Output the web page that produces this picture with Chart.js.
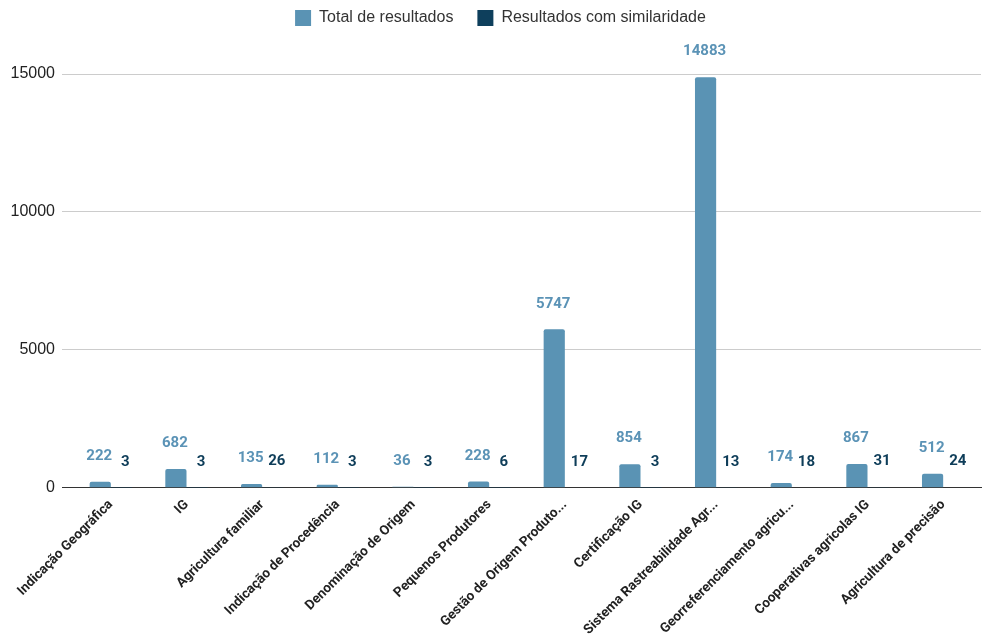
<!DOCTYPE html>
<html>
<head>
<meta charset="utf-8">
<script src="https://cdn.jsdelivr.net/npm/chart.js@4.4.0/dist/chart.umd.min.js"></script>
<style>
  html, body { margin: 0; padding: 0; background: #fff; }
</style>
</head>
<body>
<canvas id="myChart" width="985" height="639"></canvas>
<script>
const categories = [
  "Indicação Geográfica",
  "IG",
  "Agricultura familiar",
  "Indicação de Procedência",
  "Denominação de Origem",
  "Pequenos Produtores",
  "Gestão de Origem Produto...",
  "Certificação IG",
  "Sistema Rastreabilidade Agr...",
  "Georreferenciamento agricu...",
  "Cooperativas agricolas IG",
  "Agricultura de precisão"
];
const totalResults = [222, 682, 135, 112, 36, 228, 5747, 854, 14883, 174, 867, 512];
const similarResults = [3, 3, 26, 3, 3, 6, 17, 3, 13, 18, 31, 24];
const yTicks = [0, 5000, 10000, 15000];

const labelColors = ["#5b93b6", "#0e3d59"];

// draw value labels above each bar
const valueLabels = {
  id: "valueLabels",
  afterDatasetsDraw(chart) {
    const ctx = chart.ctx;
    ctx.save();
    ctx.font = "bold 15px Roboto, 'Liberation Sans', sans-serif";
    ctx.textAlign = "center";
    ctx.textBaseline = "bottom";
    chart.data.datasets.forEach((ds, i) => {
      const meta = chart.getDatasetMeta(i);
      meta.data.forEach((bar, j) => {
        ctx.fillStyle = labelColors[i];
        const x = bar.x + (i === 1 ? 4 : -1);
        ctx.fillText(String(ds.data[j]), x, bar.y - 18);
      });
    });
    ctx.restore();
  }
};

// extra room under the legend, and nudge it a little right
const legendSpace = {
  id: "legendSpace",
  beforeInit(chart) {
    const fit = chart.legend.fit;
    chart.legend.fit = function () {
      fit.bind(chart.legend)();
      this.height += 38;
    };
  },
  afterLayout(chart) {
    chart.legend.left += 8;
    chart.legend.right += 8;
  }
};

new Chart(document.getElementById("myChart").getContext("2d"), {
  type: "bar",
  data: {
    labels: categories,
    datasets: [
      {
        label: "Total de resultados",
        data: totalResults,
        backgroundColor: "#5a93b4",
        borderRadius: { topLeft: 2, topRight: 2 },
        borderSkipped: "bottom",
        categoryPercentage: 0.56,
        barPercentage: 1.0
      },
      {
        label: "Resultados com similaridade",
        data: similarResults,
        backgroundColor: "#0e3f5c",
        borderRadius: { topLeft: 2, topRight: 2 },
        borderSkipped: "bottom",
        categoryPercentage: 0.56,
        barPercentage: 1.0
      }
    ]
  },
  options: {
    responsive: false,
    animation: false,
    layout: { padding: { left: 4, right: 4, top: -14, bottom: 0 } },
    plugins: {
      tooltip: { enabled: false },
      legend: {
        position: "top",
        labels: {
          boxWidth: 16,
          boxHeight: 16,
          padding: 24,
          color: "#333",
          font: { size: 16, family: "'Liberation Sans', Arial, sans-serif" }
        }
      }
    },
    scales: {
      x: {
        grid: { display: false },
        border: { color: "#333", width: 1 },
        ticks: {
          maxRotation: 45,
          minRotation: 45,
          autoSkip: false,
          padding: 1,
          color: "#222",
          font: { size: 13.5, weight: "bold", family: "Roboto, 'Liberation Sans', sans-serif" }
        }
      },
      y: {
        min: 0,
        max: 15000,
        afterBuildTicks: axis => { axis.ticks = yTicks.map(v => ({ value: v })); },
        afterFit: axis => { axis.width = 69; },
        border: { display: false },
        grid: {
          color: c => c.tick.value === 0 ? "#333" : "#cccccc",
          drawTicks: true,
          tickLength: 11
        },
        ticks: {
          padding: 7,
          color: "#222",
          callback: v => String(v),
          font: { size: 16, family: "'Liberation Sans', Arial, sans-serif" }
        }
      }
    }
  },
  plugins: [valueLabels, legendSpace]
});
</script>
</body>
</html>
